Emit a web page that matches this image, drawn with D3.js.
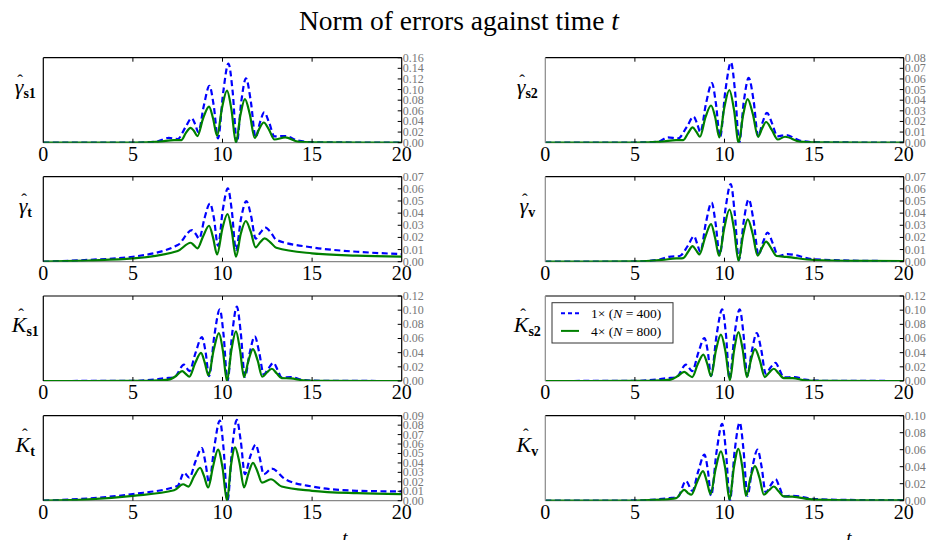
<!DOCTYPE html>
<html>
<head>
<meta charset="utf-8">
<script src="https://cdn.jsdelivr.net/npm/d3@7"></script>
<style>
  body { margin: 0; background: #fff; }
</style>
</head>
<body>
<svg width="932" height="540" font-family="Liberation Serif, DejaVu Serif, serif"></svg>
<script>
// ---- data: [t, error norm] ----
var gs1Blue = [[0,0],[5,0.0003],[6.3,0.002],[7.0,0.009],[7.5,0.007],[7.95,0.03],[8.28,0.046],[8.47,0.035],[8.65,0.02],[8.96,0.07],[9.27,0.107],[9.51,0.07],[9.75,0.008],[10.04,0.095],[10.33,0.149],[10.57,0.095],[10.8,0],[11.05,0.078],[11.31,0.121],[11.58,0.078],[11.85,0.01],[12.09,0.038],[12.33,0.057],[12.6,0.038],[12.9,0.012],[13.5,0.0125],[14.2,0.004],[15,0.001],[20,0]];
var gs1Green = [[0,0],[5,0.0002],[6.5,0.002],[7.3,0.005],[7.7,0.005],[7.95,0.018],[8.22,0.028],[8.41,0.022],[8.6,0.0125],[8.92,0.046],[9.25,0.068],[9.47,0.046],[9.7,0.013],[9.97,0.065],[10.25,0.098],[10.5,0.062],[10.75,0],[11.0,0.052],[11.25,0.082],[11.52,0.054],[11.8,0.009],[12.05,0.026],[12.3,0.038],[12.6,0.024],[12.9,0.006],[13.5,0.010],[14.2,0.002],[15,0.0005],[20,0]];

var gs2Blue = [[0,0],[5,0.0002],[6.3,0.001],[6.85,0.005],[7.4,0.004],[7.9,0.015],[8.28,0.0245],[8.47,0.018],[8.65,0.01],[8.97,0.037],[9.3,0.056],[9.52,0.037],[9.75,0.005],[10.05,0.049],[10.36,0.0756],[10.59,0.048],[10.82,0],[11.08,0.039],[11.35,0.061],[11.62,0.04],[11.88,0.006],[12.12,0.019],[12.37,0.028],[12.66,0.018],[12.95,0.006],[13.43,0.0072],[14.2,0.002],[15,0.0005],[20,0]];
var gs2Green = [[0,0],[5,0.0001],[6.5,0.001],[7.3,0.0025],[7.7,0.0025],[7.97,0.009],[8.22,0.0144],[8.42,0.0105],[8.63,0.0056],[8.94,0.024],[9.25,0.035],[9.48,0.024],[9.71,0.005],[9.99,0.033],[10.27,0.0496],[10.53,0.031],[10.79,0],[11.04,0.026],[11.29,0.041],[11.58,0.027],[11.87,0.0056],[12.1,0.0135],[12.32,0.0195],[12.64,0.012],[12.97,0.003],[13.38,0.0056],[14.2,0.001],[15,0.0003],[20,0]];

var gtBlue = [[0,0],[2.5,0.0015],[5,0.0041],[7.5,0.0137],[8.3,0.026],[8.5,0.023],[8.7,0.019],[9.0,0.036],[9.3,0.048],[9.52,0.036],[9.75,0.013],[10.02,0.043],[10.3,0.0604],[10.52,0.042],[10.75,0.0096],[11.04,0.036],[11.33,0.050],[11.59,0.038],[11.85,0.019],[12.12,0.024],[12.4,0.028],[12.7,0.024],[13,0.018],[15,0.0118],[17.5,0.0082],[20,0.0063]];
var gtGreen = [[0,0],[2.5,0.001],[5,0.0027],[7.5,0.0088],[8.22,0.0156],[8.41,0.0135],[8.6,0.011],[8.92,0.021],[9.25,0.0296],[9.47,0.02],[9.7,0.006],[9.99,0.027],[10.28,0.0393],[10.51,0.026],[10.75,0.0041],[11.02,0.023],[11.3,0.0335],[11.57,0.025],[11.85,0.0118],[12.1,0.016],[12.35,0.0192],[12.67,0.016],[13,0.0115],[15,0.0069],[17.5,0.005],[20,0.0041]];

var gvBlue = [[0,0],[5,0.0002],[6.3,0.0015],[6.9,0.004],[7.5,0.0047],[7.95,0.013],[8.3,0.021],[8.47,0.015],[8.65,0.008],[8.96,0.032],[9.28,0.0486],[9.5,0.032],[9.73,0.0055],[10.04,0.042],[10.35,0.064],[10.57,0.04],[10.8,0.0014],[11.07,0.033],[11.35,0.0513],[11.62,0.034],[11.9,0.0055],[12.15,0.016],[12.4,0.024],[12.7,0.015],[13.0,0.0047],[13.5,0.0063],[15,0.002],[17.5,0.0008],[20,0.0005]];
var gvGreen = [[0,0],[5,0.0002],[6.5,0.0015],[7.3,0.0027],[7.7,0.003],[7.96,0.008],[8.22,0.0129],[8.41,0.0095],[8.6,0.006],[8.92,0.02],[9.25,0.031],[9.47,0.02],[9.7,0.0047],[9.99,0.028],[10.28,0.043],[10.53,0.027],[10.78,0.0008],[11.04,0.022],[11.3,0.0349],[11.57,0.023],[11.85,0.005],[12.08,0.011],[12.32,0.0165],[12.61,0.011],[12.9,0.0047],[13.45,0.004],[15,0.0014],[17.5,0.0006],[20,0.0004]];

var ks1Blue = [[0,0],[5,0.0002],[6.2,0.002],[6.8,0.004],[7.3,0.005],[7.85,0.023],[8.15,0.014],[8.5,0.04],[8.85,0.062],[9.05,0.042],[9.25,0.007],[9.55,0.065],[9.85,0.101],[10.06,0.065],[10.28,0],[10.54,0.067],[10.8,0.105],[11.02,0.068],[11.25,0.006],[11.52,0.04],[11.8,0.063],[12.05,0.04],[12.3,0.0093],[12.57,0.018],[12.85,0.0257],[13.07,0.016],[13.3,0.005],[13.8,0.0056],[14.5,0.0014],[15.5,0.0002],[20,0]];
var ks1Green = [[0,0],[5,0.0001],[6.5,0.001],[7.0,0.002],[7.4,0.007],[7.75,0.014],[7.95,0.01],[8.15,0.006],[8.47,0.025],[8.8,0.0397],[9.01,0.026],[9.22,0.008],[9.51,0.044],[9.8,0.0677],[10.02,0.043],[10.25,0],[10.5,0.044],[10.75,0.070],[10.97,0.045],[11.2,0.0056],[11.45,0.029],[11.7,0.045],[11.96,0.029],[12.22,0.006],[12.48,0.012],[12.75,0.0173],[13.02,0.011],[13.3,0.004],[13.8,0.0037],[14.5,0.001],[15.5,0.0002],[20,0]];

var ks2Blue = [[0,0],[5,0.0002],[6.2,0.002],[6.8,0.004],[7.3,0.005],[7.85,0.023],[8.2,0.014],[8.54,0.04],[8.88,0.0607],[9.07,0.041],[9.25,0.007],[9.56,0.065],[9.87,0.101],[10.08,0.066],[10.28,0.0023],[10.56,0.066],[10.85,0.101],[11.06,0.066],[11.27,0.007],[11.53,0.043],[11.8,0.0677],[12.05,0.044],[12.3,0.0103],[12.57,0.019],[12.85,0.0257],[13.07,0.016],[13.3,0.005],[13.9,0.0056],[14.5,0.002],[15.5,0.0003],[20,0]];
var ks2Green = [[0,0],[5,0.0001],[6.5,0.001],[7.0,0.002],[7.4,0.007],[7.75,0.013],[7.97,0.009],[8.2,0.0056],[8.51,0.024],[8.82,0.0373],[9.03,0.025],[9.25,0.007],[9.52,0.043],[9.8,0.0654],[10.05,0.042],[10.3,0.0014],[10.54,0.044],[10.78,0.069],[11.01,0.045],[11.25,0.0056],[11.47,0.029],[11.7,0.045],[11.97,0.029],[12.25,0.0056],[12.5,0.012],[12.75,0.0173],[13.02,0.011],[13.3,0.004],[13.8,0.004],[14.5,0.001],[15.5,0.0002],[20,0]];

var ktBlue = [[0,0],[2.5,0.0024],[5,0.007],[7.5,0.0157],[7.85,0.0297],[8.15,0.0244],[8.5,0.042],[8.85,0.0558],[9.05,0.04],[9.25,0.0192],[9.55,0.058],[9.85,0.0848],[10.06,0.055],[10.28,0],[10.54,0.056],[10.8,0.0855],[11.02,0.063],[11.25,0.028],[11.55,0.047],[11.85,0.0593],[12.07,0.046],[12.3,0.028],[12.75,0.034],[13.5,0.0227],[15,0.015],[17.5,0.0105],[20,0.0098]];
var ktGreen = [[0,0],[2.5,0.0014],[5,0.0052],[7.3,0.011],[7.8,0.0174],[8.1,0.015],[8.42,0.026],[8.75,0.0349],[8.97,0.026],[9.2,0.014],[9.47,0.036],[9.75,0.054],[10.0,0.035],[10.25,0],[10.47,0.037],[10.7,0.0565],[10.95,0.04],[11.2,0.014],[11.45,0.029],[11.7,0.0401],[11.95,0.031],[12.2,0.0192],[12.7,0.0227],[13.3,0.015],[15,0.0105],[17.5,0.008],[20,0.007]];

var kvBlue = [[0,0],[5,0.0003],[6.2,0.0015],[6.9,0.003],[7.4,0.0045],[7.85,0.0233],[8.2,0.0116],[8.54,0.035],[8.88,0.0543],[9.07,0.036],[9.25,0.0058],[9.56,0.058],[9.87,0.0903],[10.08,0.058],[10.3,0],[10.57,0.059],[10.85,0.0919],[11.06,0.06],[11.28,0.0058],[11.56,0.04],[11.85,0.060],[12.07,0.04],[12.3,0.0097],[12.57,0.018],[12.85,0.0252],[13.07,0.016],[13.3,0.005],[13.8,0.0058],[15,0.002],[17.5,0.0008],[20,0.0006]];
var kvGreen = [[0,0],[5,0.0002],[6.5,0.0012],[7.3,0.003],[7.75,0.0128],[7.96,0.009],[8.15,0.007],[8.47,0.022],[8.8,0.0349],[9.01,0.023],[9.22,0.0078],[9.51,0.038],[9.8,0.058],[10.04,0.038],[10.28,0.0012],[10.53,0.04],[10.78,0.061],[10.99,0.04],[11.2,0.0058],[11.45,0.027],[11.7,0.0407],[11.95,0.027],[12.2,0.007],[12.47,0.012],[12.75,0.0167],[13.02,0.011],[13.3,0.005],[13.8,0.0047],[15,0.0012],[17.5,0.0005],[20,0.0004]];

// panel order: row by row, left then right
var letters  = ["\u03b3", "\u03b3", "\u03b3", "\u03b3", "K", "K", "K", "K"];
var subs     = ["s1", "s2", "t", "v", "s1", "s2", "t", "v"];
var yMaxes   = [0.16, 0.08, 0.07, 0.07, 0.12, 0.12, 0.09, 0.10];
var ySteps   = [0.02, 0.01, 0.01, 0.01, 0.02, 0.02, 0.01, 0.02];
var blueData = [gs1Blue, gs2Blue, gtBlue, gvBlue, ks1Blue, ks2Blue, ktBlue, kvBlue];
var greenData = [gs1Green, gs2Green, gtGreen, gvGreen, ks1Green, ks2Green, ktGreen, kvGreen];
var xTicks = [0, 5, 10, 15, 20];
var legendLabels = [["1\u00d7 (", "N", " = 400)"], ["4\u00d7 (", "N", " = 800)"]];

var svg = d3.select("svg");

// layout
var colX = [43.3, 545.3], plotW = 358.4;
var rowY = [57.7, 176.7, 296, 415.7], plotH = 85;

svg.append("text")
    .attr("x", 459).attr("y", 30)
    .attr("text-anchor", "middle")
    .attr("font-size", 27.5)
    .text("Norm of errors against time ")
    .append("tspan").attr("font-style", "italic").text("t");

var x = d3.scaleLinear().domain([0, 20]).range([0, plotW]);

letters.forEach(function(letter, i) {
    var col = i % 2, row = Math.floor(i / 2);
    var g = svg.append("g").attr("transform", "translate(" + colX[col] + "," + rowY[row] + ")");
    var y = d3.scaleLinear().domain([0, yMaxes[i]]).range([plotH, 0]);

    g.append("clipPath").attr("id", "clip" + i)
      .append("rect").attr("width", plotW).attr("height", plotH);

    // grey bottom spine under the lines
    g.append("line").attr("x1", 0).attr("x2", plotW).attr("y1", plotH).attr("y2", plotH)
        .attr("stroke", "#888").attr("stroke-width", 1.2);

    var line = d3.line()
        .x(d => x(d[0]))
        .y(d => y(d[1]))
        .curve(d3.curveMonotoneX);

    g.append("path").datum(blueData[i])
        .attr("clip-path", "url(#clip" + i + ")")
        .attr("fill", "none").attr("stroke", "#0000ff")
        .attr("stroke-width", 2.2).attr("stroke-dasharray", "6,3.5")
        .attr("d", line);
    g.append("path").datum(greenData[i])
        .attr("clip-path", "url(#clip" + i + ")")
        .attr("fill", "none").attr("stroke", "#008000")
        .attr("stroke-width", 2.2)
        .attr("d", line);

    // frame
    g.append("line").attr("x1", 0).attr("x2", plotW).attr("y1", 0).attr("y2", 0)
        .attr("stroke", "#000").attr("stroke-width", 1.2);
    g.append("line").attr("x1", plotW).attr("x2", plotW).attr("y1", 0).attr("y2", plotH)
        .attr("stroke", "#000").attr("stroke-width", 1.2);
    g.append("line").attr("x1", 0).attr("x2", 0).attr("y1", 0).attr("y2", plotH)
        .attr("stroke", col == 0 ? "#000" : "#888").attr("stroke-width", 1.2);

    // x ticks (inward, top and bottom) + labels
    xTicks.forEach(function(t) {
        if (t > 0 && t < 20) {
            g.append("line").attr("x1", x(t)).attr("x2", x(t)).attr("y1", plotH).attr("y2", plotH - 4)
                .attr("stroke", "#000");
            g.append("line").attr("x1", x(t)).attr("x2", x(t)).attr("y1", 0).attr("y2", 4)
                .attr("stroke", "#000");
        }
        g.append("text").attr("x", x(t)).attr("y", plotH + 18)
            .attr("text-anchor", "middle").attr("font-size", 20)
            .text(t);
    });

    // right y axis
    var yt = d3.range(0, yMaxes[i] + ySteps[i] / 2, ySteps[i]);
    var fmt = d3.format(".2f");
    yt.forEach(function(v) {
        g.append("line").attr("x1", plotW - 4).attr("x2", plotW).attr("y1", y(v)).attr("y2", y(v))
            .attr("stroke", "#000");
        g.append("text").attr("x", plotW + 1).attr("y", y(v)).attr("dy", "0.33em")
            .attr("font-size", 12).attr("fill", "#777")
            .text(fmt(v));
    });

    // panel label with hat
    var lab = svg.append("g");
    var txt = lab.append("text").attr("font-size", 22);
    txt.append("tspan").attr("font-style", "italic").text(letter);
    txt.append("tspan").attr("font-size", 14).attr("font-weight", "bold")
        .attr("dy", 4).text(subs[i]);
    var cw = txt.node().getSubStringLength(0, 1);
    lab.append("text").attr("x", cw / 2 + (letter == "K" ? 2 : 1)).attr("y", letter == "K" ? -12 : -8)
        .attr("text-anchor", "middle").attr("font-size", 17).text("\u02c6");
    var bw = txt.node().getComputedTextLength();
    var cx = colX[col] - 18;
    lab.attr("transform", "translate(" + (cx - bw / 2) + "," + (rowY[row] + 36) + ")");

    // legend
    if (i == 5) {
        var lg = g.append("g").attr("transform", "translate(6.7,6.7)");
        lg.append("rect").attr("width", 121).attr("height", 40.3)
            .attr("fill", "#fff").attr("stroke", "#333").attr("stroke-width", 1);
        [0, 1].forEach(function(k) {
            var ly = 10.5 + k * 17.7;
            lg.append("line").attr("x1", 9).attr("x2", 27).attr("y1", ly).attr("y2", ly)
                .attr("stroke", k == 0 ? "#0000ff" : "#008000").attr("stroke-width", 2)
                .attr("stroke-dasharray", k == 0 ? "4,3" : null);
            var lt = lg.append("text").attr("x", 39).attr("y", ly).attr("dy", "0.35em")
                .attr("font-size", 13.5);
            lt.append("tspan").text(legendLabels[k][0]);
            lt.append("tspan").attr("font-style", "italic").text(legendLabels[k][1]);
            lt.append("tspan").text(legendLabels[k][2]);
        });
    }
});

// x axis labels under the bottom row
[345, 849].forEach(function(px) {
    svg.append("text").attr("x", px).attr("y", 544)
        .attr("text-anchor", "middle").attr("font-size", 19).attr("font-style", "italic")
        .text("t");
});
</script>
</body>
</html>
